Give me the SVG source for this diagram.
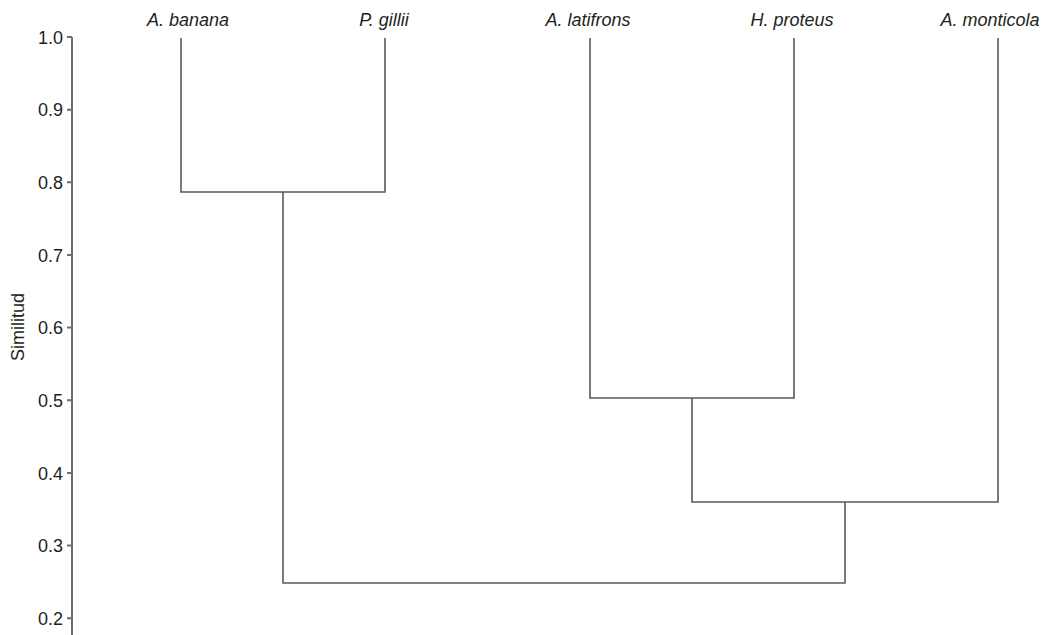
<svg xmlns="http://www.w3.org/2000/svg" width="1056" height="635" viewBox="0 0 1056 635">
<style>
.ln{fill:none;stroke:#58595b;stroke-width:1.6;stroke-linejoin:miter;stroke-linecap:butt}
.ax{fill:none;stroke:#6d6e71;stroke-width:2}
.tk{font-family:"Liberation Sans",Arial,sans-serif;font-size:18px;fill:#231f20;text-anchor:end}
.sp{font-family:"Liberation Sans",Arial,sans-serif;font-size:18px;font-style:italic;fill:#231f20;text-anchor:middle}
</style>
<rect width="1056" height="635" fill="#fff"/>
<g id="axis">
<path class="ax" d="M72 37V635"/>
<path class="ax" d="M67 37H72M67 109.7H72M67 182.3H72M67 255H72M67 327.6H72M67 400.3H72M67 473H72M67 545.6H72M67 618.3H72"/>
<text class="tk" x="63" y="43.5">1.0</text>
<text class="tk" x="63" y="116.2">0.9</text>
<text class="tk" x="63" y="188.8">0.8</text>
<text class="tk" x="63" y="261.5">0.7</text>
<text class="tk" x="63" y="334.1">0.6</text>
<text class="tk" x="63" y="406.8">0.5</text>
<text class="tk" x="63" y="479.5">0.4</text>
<text class="tk" x="63" y="552.1">0.3</text>
<text class="tk" x="63" y="624.8">0.2</text>
<text font-family="Liberation Sans,Arial,sans-serif" font-size="18" fill="#231f20" text-anchor="middle" transform="translate(24 327) rotate(-90)">Similitud</text>
</g>
<g id="leaf-a-banana"><text class="sp" x="188" y="26">A. banana</text></g>
<g id="leaf-p-gillii"><text class="sp" x="384" y="26">P. gillii</text></g>
<g id="leaf-a-latifrons"><text class="sp" x="588" y="26">A. latifrons</text></g>
<g id="leaf-h-proteus"><text class="sp" x="792" y="26">H. proteus</text></g>
<g id="leaf-a-monticola"><text class="sp" x="990" y="26">A. monticola</text></g>
<g id="connectors">
<path class="ln" d="M181 38V192H385V38"/>
<path class="ln" d="M283 192V583H845V502"/>
<path class="ln" d="M590 38V398H794V38"/>
<path class="ln" d="M692 398V502H998V38"/>
</g>
</svg>
